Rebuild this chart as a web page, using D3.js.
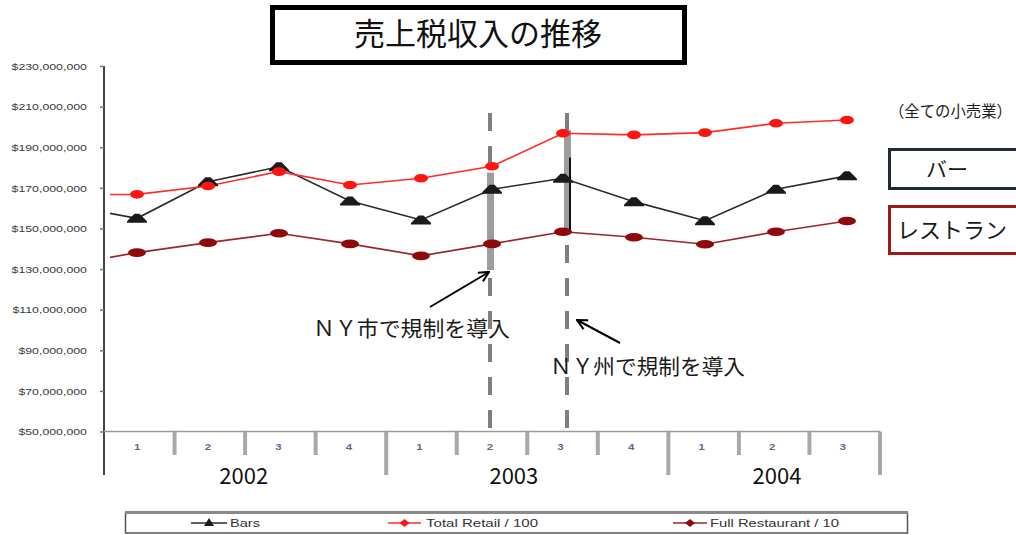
<!DOCTYPE html>
<html>
<head>
<meta charset="utf-8">
<script src="https://cdn.jsdelivr.net/npm/d3@7"></script>
<style>
  html, body { margin: 0; padding: 0; background: #fff; }
  svg { display: block; }
</style>
</head>
<body>
<div id="chart"></div>
<script>
// Quarterly sales-tax revenue (USD); retail scaled /100, restaurants /10
const quarters = ["1", "2", "3", "4", "1", "2", "3", "4", "1", "2", "3"];
const years = ["2002", "2003", "2004"];
const quartersPerYear = [4, 4, 3];

// values in millions of dollars, 2002 Q1 .. 2004 Q3
const bars = [155.0, 173.0, 180.4, 163.5, 154.2, 169.3, 174.7, 163.2, 153.8, 169.3, 175.9];
const totalRetail = [166.8, 170.9, 178.0, 171.4, 174.7, 180.6, 196.9, 196.1, 197.2, 201.8, 203.4];
const fullRestaurant = [138.1, 143.0, 147.6, 142.4, 136.5, 142.4, 148.4, 145.7, 142.2, 148.4, 153.7];
// preceding quarter (2001 Q4), only its segment into the plot is visible
const priorQuarter = { bars: 161.3, totalRetail: 166.6, fullRestaurant: 132.0 };

const yTickValues = [50, 70, 90, 110, 130, 150, 170, 190, 210, 230];

const seriesNames = ["Bars", "Total Retail / 100", "Full Restaurant / 10"];
const title = "売上税収入の推移";
const cityNote = "ＮＹ市で規制を導入";
const stateNote = "ＮＹ州で規制を導入";
const scopeNote = "（全ての小売業）";
const barLabel = "バー";
const restaurantLabel = "レストラン";

const W = 1016, H = 535;
const svg = d3.select("#chart").append("svg")
  .attr("width", W).attr("height", H)
  .attr("viewBox", `0 0 ${W} ${H}`);

const jp = "'Noto Sans CJK JP', 'Noto Sans', sans-serif";
const latin = "'Liberation Sans', Arial, sans-serif";

// ---- scales
const y = d3.scaleLinear().domain([50, 230]).range([431.5, 66]);
const xBand = d3.scaleBand().domain(d3.range(quarters.length)).range([104, 880]);
const xPt = d3.scalePoint().domain(d3.range(-1, quarters.length)).range([66, 847]);

const defs = svg.append("defs");
defs.append("clipPath").attr("id", "plotClip")
  .append("rect").attr("x", 110).attr("y", 0).attr("width", W - 110).attr("height", H);
defs.append("marker").attr("id", "arrowHead")
  .attr("viewBox", "0 0 12 12").attr("refX", 11).attr("refY", 6)
  .attr("markerWidth", 12).attr("markerHeight", 12)
  .attr("markerUnits", "userSpaceOnUse").attr("orient", "auto")
  .append("path").attr("d", "M1,1 L11,6 L1,11")
  .attr("fill", "none").attr("stroke", "#000").attr("stroke-width", 2);

// ---- title box
svg.append("rect")
  .attr("x", 272.5).attr("y", 7.5).attr("width", 412).attr("height", 55)
  .attr("fill", "#fff").attr("stroke", "#000").attr("stroke-width", 5);
svg.append("text")
  .attr("x", 478).attr("y", 45).attr("text-anchor", "middle")
  .attr("font-family", jp).attr("font-size", 31).attr("fill", "#111")
  .text(title);

// ---- y axis
const yAxis = svg.append("g").attr("transform", "translate(104,0)")
  .call(d3.axisLeft(y).tickValues(yTickValues).tickSize(4)
    .tickFormat(d => "$" + d3.format(",")(d * 1e6)));
yAxis.select(".domain").attr("stroke", "#444").attr("stroke-width", 2)
  .attr("d", `M0,${y(230)}V475`);
yAxis.selectAll(".tick line").attr("stroke", "#777").attr("stroke-width", 1.5);
yAxis.selectAll(".tick text")
  .attr("x", -13.1).attr("dy", "0.35em")
  .attr("transform", "scale(1.3,1)")
  .attr("font-family", latin).attr("font-size", 9.5).attr("fill", "#3a3a3a");

// ---- x axis: quarter and year separators
const axisY = y(50);
svg.append("line").attr("x1", 104).attr("x2", 880).attr("y1", axisY).attr("y2", axisY)
  .attr("stroke", "#9a9a9a").attr("stroke-width", 1.5);

const yearStarts = [];
quartersPerYear.reduce((acc, n) => { yearStarts.push(acc); return acc + n; }, 0);
const separators = d3.range(1, quarters.length + 1).map(i => ({
  x: i < quarters.length ? xBand(i) : xBand.range()[1],
  long: i === quarters.length || yearStarts.includes(i)
}));
svg.append("g").selectAll("line").data(separators).join("line")
  .attr("x1", d => d.x).attr("x2", d => d.x)
  .attr("y1", axisY).attr("y2", d => d.long ? 475 : 455)
  .attr("stroke", "#a8a8a8").attr("stroke-width", 4);

svg.append("g").selectAll("text").data(quarters).join("text")
  .attr("transform", (d, i) => `translate(${xBand(i) + xBand.bandwidth() / 2 - 2},450) scale(1.35,1)`)
  .attr("text-anchor", "middle")
  .attr("font-family", latin).attr("font-weight", "bold").attr("font-size", 8.5)
  .attr("fill", "#5b6890")
  .text(d => d);

// year labels sit under their quarter groups
const yearAnchor = [1.98, 5.81, 9.54];
svg.append("g").selectAll("text").data(years).join("text")
  .attr("x", (d, i) => xBand(0) + yearAnchor[i] * xBand.step())
  .attr("y", 484).attr("text-anchor", "middle")
  .attr("font-family", jp).attr("font-size", 22).attr("fill", "#111")
  .text(d => d);

// ---- regulation markers (dashed verticals with shaded segments)
const dashAt = [{ i: 5, dx: -2 }, { i: 6, dx: 4 }];
svg.append("g").selectAll("line").data(dashAt).join("line")
  .attr("x1", d => xPt(d.i) + d.dx).attr("x2", d => xPt(d.i) + d.dx)
  .attr("y1", 113).attr("y2", axisY - 3)
  .attr("stroke", "#7f7f7f").attr("stroke-width", 4)
  .attr("stroke-dasharray", "18,15");

const shades = [
  { i: 5, dx: -2, top: 177.5, bottom: 129.5 },
  { i: 6, dx: 4, top: 198.5, bottom: 149 }
];
svg.append("g").selectAll("rect").data(shades).join("rect")
  .attr("x", d => xPt(d.i) + d.dx - 3).attr("width", 7)
  .attr("y", d => y(d.top)).attr("height", d => y(d.bottom) - y(d.top))
  .attr("fill", "#9d9d9d");
svg.append("line")
  .attr("x1", xPt(6) + 7).attr("x2", xPt(6) + 7)
  .attr("y1", y(185)).attr("y2", y(148.5))
  .attr("stroke", "#111").attr("stroke-width", 2);

// ---- series lines and markers
const series = [
  { name: seriesNames[0], values: bars, prior: priorQuarter.bars, color: "#1a1a1a", line: "#2a2a2a", shape: "tri" },
  { name: seriesNames[1], values: totalRetail, prior: priorQuarter.totalRetail, color: "#ff1414", line: "#ff2a2a", shape: "dot", rx: 7 },
  { name: seriesNames[2], values: fullRestaurant, prior: priorQuarter.fullRestaurant, color: "#8e0a0a", line: "#98262a", shape: "dot", rx: 9 }
];

const lineGen = d3.line().x(d => xPt(d.i)).y(d => y(d.v));
const plot = svg.append("g").attr("clip-path", "url(#plotClip)");

series.forEach(s => {
  const pts = [{ i: -1, v: s.prior }].concat(s.values.map((v, i) => ({ i, v })));
  plot.append("path").datum(pts)
    .attr("d", lineGen).attr("fill", "none")
    .attr("stroke", s.line).attr("stroke-width", 1.6);
});

series.forEach(s => {
  const g = plot.append("g");
  if (s.shape === "tri") {
    g.selectAll("path").data(s.values).join("path")
      .attr("transform", (v, i) => `translate(${xPt(i)},${y(v)})`)
      .attr("d", "M-10,4.5 L10,4.5 L10,3 L2.5,-4.5 L-2.5,-4.5 L-10,3 Z")
      .attr("fill", s.color);
  } else {
    g.selectAll("ellipse").data(s.values).join("ellipse")
      .attr("cx", (v, i) => xPt(i)).attr("cy", v => y(v))
      .attr("rx", s.rx).attr("ry", 4.3)
      .attr("fill", s.color);
  }
});

// ---- annotations
svg.append("line")
  .attr("x1", 430).attr("y1", 307).attr("x2", 489).attr("y2", 272)
  .attr("stroke", "#000").attr("stroke-width", 2).attr("marker-end", "url(#arrowHead)");
svg.append("line")
  .attr("x1", 620).attr("y1", 343).attr("x2", 577).attr("y2", 320)
  .attr("stroke", "#000").attr("stroke-width", 2).attr("marker-end", "url(#arrowHead)");

svg.append("text").attr("x", 313).attr("y", 336)
  .attr("font-family", jp).attr("font-size", 21).attr("fill", "#1a1a1a")
  .attr("textLength", 197).attr("lengthAdjust", "spacingAndGlyphs")
  .text(cityNote);
svg.append("text").attr("x", 550).attr("y", 374)
  .attr("font-family", jp).attr("font-size", 21).attr("fill", "#1a1a1a")
  .attr("textLength", 195).attr("lengthAdjust", "spacingAndGlyphs")
  .text(stateNote);

// ---- side labels
svg.append("text").attr("x", 889).attr("y", 117)
  .attr("font-family", jp).attr("font-size", 16).attr("fill", "#222")
  .attr("textLength", 123).attr("lengthAdjust", "spacingAndGlyphs")
  .text(scopeNote);
svg.append("rect").attr("x", 889.5).attr("y", 149.5).attr("width", 140).attr("height", 39)
  .attr("fill", "#fff").attr("stroke", "#1e2a38").attr("stroke-width", 3);
svg.append("text").attr("x", 947).attr("y", 177).attr("text-anchor", "middle")
  .attr("font-family", jp).attr("font-size", 21).attr("fill", "#1a1a1a")
  .text(barLabel);
svg.append("rect").attr("x", 889.5).attr("y", 206.5).attr("width", 140).attr("height", 47)
  .attr("fill", "#fff").attr("stroke", "#a01818").attr("stroke-width", 3);
svg.append("text").attr("x", 897).attr("y", 238)
  .attr("font-family", jp).attr("font-size", 22).attr("fill", "#1a1a1a")
  .text(restaurantLabel);

// ---- legend
const lg = svg.append("g");
lg.append("rect").attr("x", 125.5).attr("y", 513).attr("width", 782).attr("height", 20)
  .attr("fill", "#fff").attr("stroke", "#555").attr("stroke-width", 1.5);
lg.append("rect").attr("x", 125).attr("y", 511).attr("width", 783).attr("height", 3)
  .attr("fill", "#8a8a8a");

const legendItems = [
  { s: series[0], x0: 191, x1: 227, tx: 230, tw: 30 },
  { s: series[1], x0: 388, x1: 421, tx: 426, tw: 112 },
  { s: series[2], x0: 673, x1: 707, tx: 710, tw: 129 }
];
const legY = 523;
legendItems.forEach(it => {
  lg.append("line").attr("x1", it.x0).attr("x2", it.x1).attr("y1", legY).attr("y2", legY)
    .attr("stroke", it.s.line).attr("stroke-width", 1.6);
  const cx = (it.x0 + it.x1) / 2;
  if (it.s.shape === "tri") {
    lg.append("path").attr("transform", `translate(${cx},${legY - 1})`)
      .attr("d", "M-5,4 L5,4 L0,-4 Z").attr("fill", it.s.color);
  } else {
    lg.append("path").attr("transform", `translate(${cx},${legY})`)
      .attr("d", "M0,-4 L5,0 L0,4 L-5,0 Z").attr("fill", it.s.color);
  }
  lg.append("text").attr("x", it.tx).attr("y", legY + 4)
    .attr("font-family", latin).attr("font-size", 11).attr("fill", "#333")
    .attr("textLength", it.tw).attr("lengthAdjust", "spacingAndGlyphs")
    .text(it.s.name);
});
</script>
</body>
</html>
